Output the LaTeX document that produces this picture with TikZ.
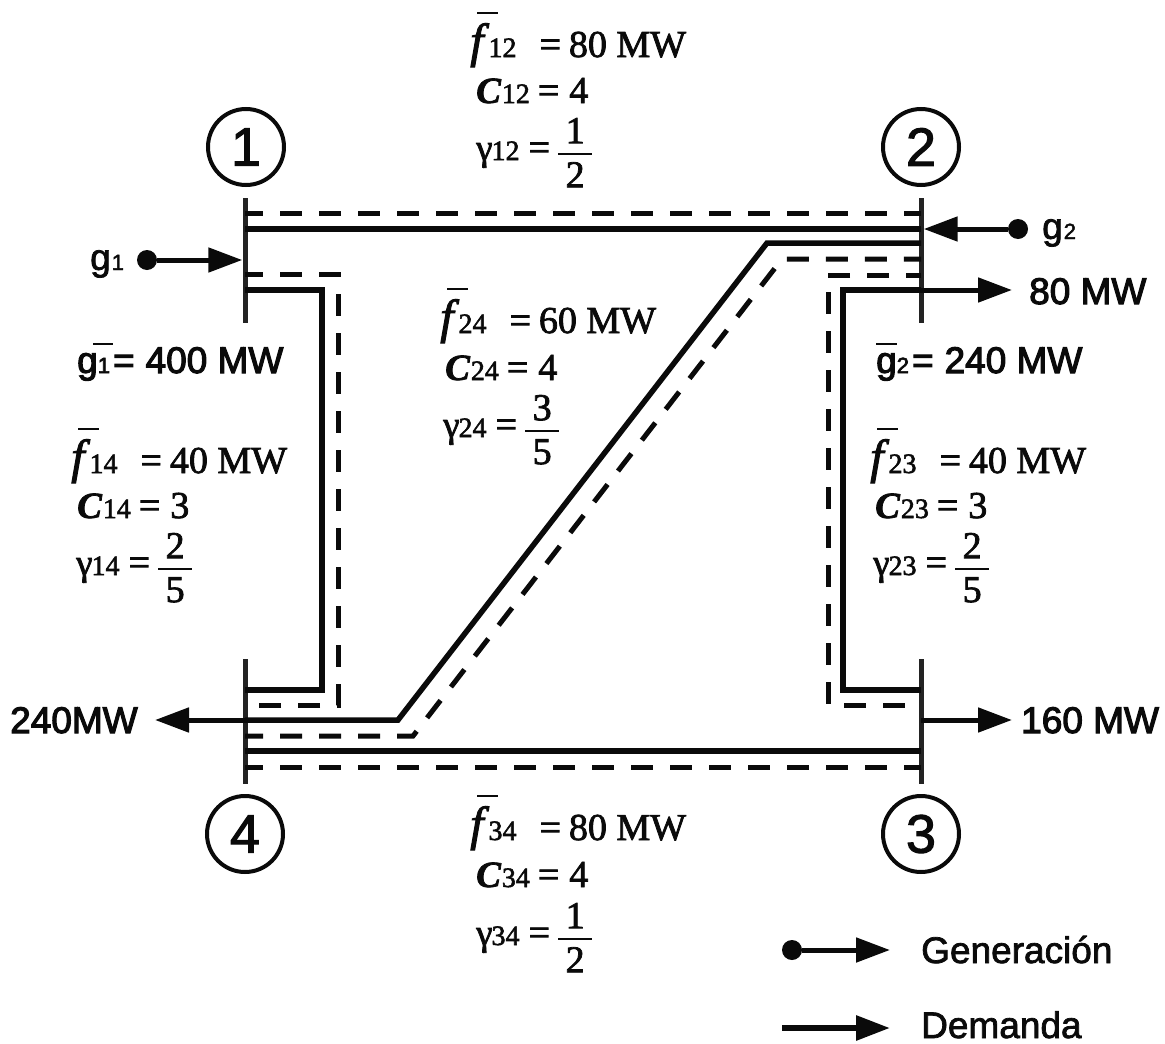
\documentclass[tikz,border=0pt]{standalone}
\usepackage{fontspec}
\usepackage{xcolor}
\usepackage{tikz}
\usetikzlibrary{arrows.meta,positioning}
\setmainfont{Liberation Sans}[RawFeature={embolden=2}]
\newfontfamily\serifnet{Liberation Serif}[RawFeature={embolden=2}]
\newfontfamily\heavynet{Liberation Sans}[RawFeature={embolden=3}]
\definecolor{inkblack}{RGB}{10,10,10}
\definecolor{busgray}{RGB}{35,35,35}
\newcommand{\szfont}[1]{\fontsize{#1}{#1}\selectfont}
\newcommand{\frc}[2]{$\displaystyle{\hbox to 34pt{\hss #1\hss}\above 2.4pt\hbox to 34pt{\hss #2\hss}}$}
\newcommand{\barred}[3]{\rlap{\kern#1\raisebox{#2}{\rule{#3}{2pt}}}}
\tikzset{
  every node/.style={inner sep=0pt, text=inkblack},
  netline/.style={draw=inkblack, line width=5.5pt},
  limline/.style={draw=inkblack, line width=5pt, dash pattern=on 22pt off 17pt},
  flowarrow/.style={-{Triangle[length=34pt,width=24pt]}, draw=inkblack, line width=5pt},
  bus/.style={draw=none, fill=busgray, minimum width=5pt, minimum height=125pt},
  busnum/.style={circle, draw=inkblack, line width=4pt, minimum size=76pt, font=\szfont{54}},
  gendot/.style={circle, fill=inkblack, minimum size=20pt},
  sans/.style={font=\szfont{37}, anchor=base west},
  serif/.style={font=\serifnet\szfont{38}, anchor=base west}
}
\begin{document}
\begin{tikzpicture}[x=1pt,y=-1pt]
  \useasboundingbox (0,0) rectangle (1165,1044);
  % buses
  \node[bus] (bus1) at (245,260) {};
  \node[bus] (bus2) at (921,260) {};
  \node[bus] (bus3) at (921,721) {};
  \node[bus] (bus4) at (245,721) {};
  \node[busnum] (n1) at (246,147) {1};
  \node[busnum] (n2) at (921,147) {2};
  \node[busnum] (n3) at (921,834) {3};
  \node[busnum] (n4) at (245,834) {4};
  % lines and limits
  \draw[netline] (bus1 |- 0,229) -- (bus2 |- 0,229);
  \draw[limline, dash phase=4pt] (bus1 |- 0,213) -- (bus2 |- 0,213);
  \draw[netline] (bus4 |- 0,751) -- (bus3 |- 0,751);
  \draw[limline, dash phase=4pt] (bus4 |- 0,767) -- (bus3 |- 0,767);
  \draw[netline] (bus1 |- 0,290) -- (322,290) -- (322,690) -- (bus4 |- 0,690);
  \draw[limline, dash phase=4pt] (bus1 |- 0,274) -- (338,274) -- (338,705) -- (bus4 |- 0,705);
  \draw[netline] (bus2 |- 0,290) -- (843,290) -- (843,690) -- (bus3 |- 0,690);
  \draw[limline, dash phase=7pt] (bus2 |- 0,275) -- (828,275) -- (828,705) -- (bus3 |- 0,705);
  \draw[netline] (bus4 |- 0,720) -- (398,720) -- (767,243) -- (bus2 |- 0,243);
  \draw[limline, dash phase=4pt] (bus4 |- 0,736) -- (413,736) -- (782,259) -- (bus2 |- 0,259);
  % generation
  \node[gendot] (gd1) at (147,260) {};
  \node[gendot] (gd2) at (1018,229) {};
  \draw[flowarrow] (gd1) -- (bus1.west |- gd1);
  \draw[flowarrow] (gd2) -- (bus2.east |- gd2);
  \node[sans] (g1) at (90,270) {g\kern1pt{\szfont{22}1}};
  \node[sans] (g2) at (1042,239) {g\kern1pt{\szfont{22}2}};
  \node[sans, font=\heavynet\szfont{37}] (g1max) at (77,373)
    {\barred{16pt}{28pt}{20pt}g{\szfont{22}1}\kern3pt=\kern11pt 400 MW};
  \node[sans, font=\heavynet\szfont{37}] (g2max) at (876,373)
    {\barred{0pt}{28pt}{21pt}g{\szfont{22}2}\kern3pt=\kern11pt 240 MW};
  % demand
  \coordinate (d1) at (155,720);
  \coordinate (d2) at (1012,290);
  \coordinate (d3) at (1012,720);
  \draw[flowarrow] (bus4 |- d1) -- (d1);
  \draw[flowarrow] (bus2 |- d2) -- (d2);
  \draw[flowarrow] (bus3 |- d3) -- (d3);
  \node[sans, font=\heavynet\szfont{37}] (d1t) at (10,733) {240MW};
  \node[sans, font=\heavynet\szfont{37}] (d2t) at (1029,304) {80 MW};
  \node[sans, font=\heavynet\szfont{37}] (d3t) at (1021,733) {160 MW};
  % line data
  \foreach \lnk/\xf/\xc/\xg/\yf/\yc/\yg/\flim/\cost/\fnum/\fden in {
    12/470/476/476/57/103/160/80/4/1/2,
    34/470/476/476/840/887/945/80/4/1/2,
    14/71/77/76/473/518/575/40/3/2/5,
    23/870/875/873/473/518/575/40/3/2/5,
    24/440/445/443/333/380/437/60/4/3/5}{
    \node[serif] (f\lnk) at (\xf,\yf)
      {\barred{7pt}{43pt}{21pt}{\szfont{48}\itshape f}\kern5pt{\szfont{28}\lnk}\kern23pt=\kern8pt\flim\ MW};
    \node[serif] (c\lnk) at (\xc,\yc)
      {{\szfont{37}\bfseries\itshape C}\kern1pt{\szfont{28}\lnk}\kern8pt=\kern10pt\cost};
    \node[serif] (r\lnk) at (\xg,\yg)
      {{\szfont{37}γ}\kern-1pt{\szfont{28}\lnk}\kern9pt=\kern7pt\frc{\fnum}{\fden}};
  }
  % legend
  \node[gendot] (lg) at (792,950) {};
  \coordinate (lgend) at (890,950);
  \coordinate (ldstart) at (782,1028);
  \coordinate (ldend) at (890,1028);
  \draw[flowarrow] (lg) -- (lgend);
  \draw[flowarrow, line width=6pt] (ldstart) -- (ldend);
  \node[sans] (lgt) at (921,963) {Generación};
  \node[sans] (ldt) at (921,1038) {Demanda};
\end{tikzpicture}
\end{document}
